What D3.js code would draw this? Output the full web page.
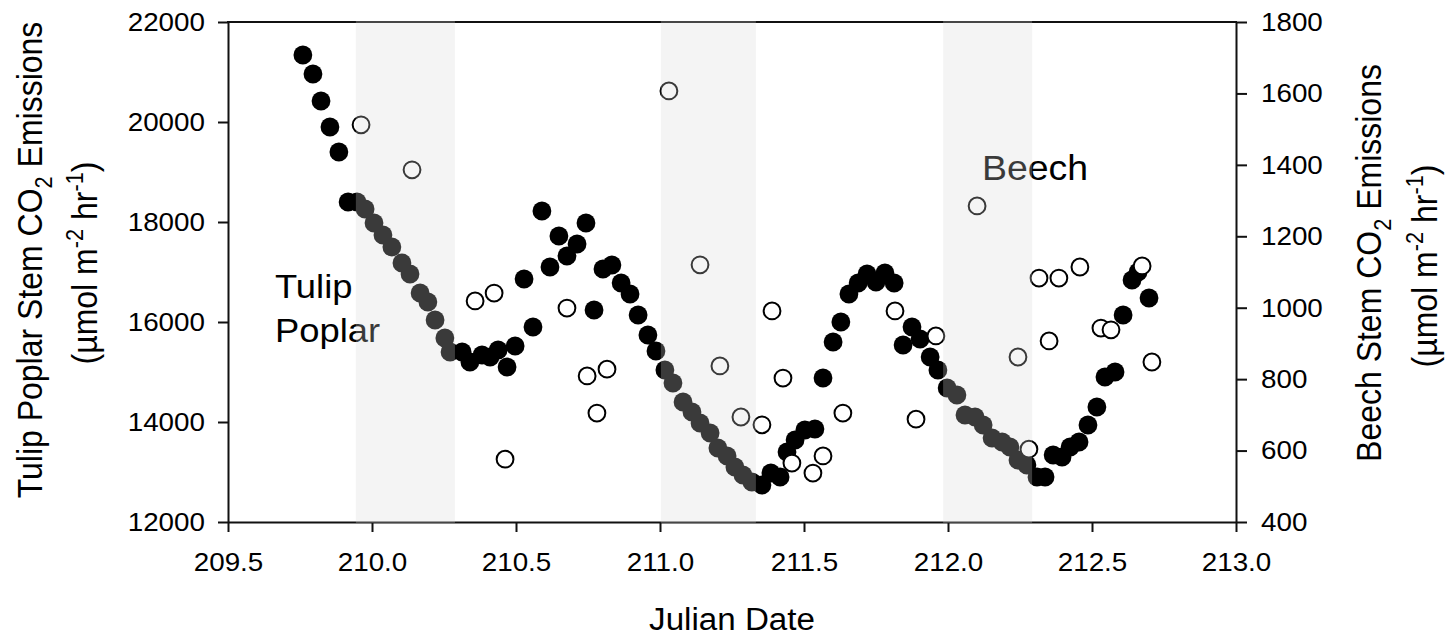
<!DOCTYPE html>
<html><head><meta charset="utf-8">
<script src="https://cdn.jsdelivr.net/npm/d3@7"></script>
<style>
body{margin:0;background:#fff}
svg{display:block}
text{font-family:"Liberation Sans",Arial,sans-serif;fill:#000}
</style>
</head><body>
<svg id="c" width="1445" height="639"></svg>
<script>
// ---------- data ----------
const poplarDate = [209.760,209.795,209.823,209.854,209.885,209.917,209.948,209.976,210.007,210.038,210.069,210.104,210.132,210.167,210.194,210.219,210.253,210.271,210.313,210.340,210.382,210.410,210.438,210.469,210.497,210.528,210.559,210.590,210.618,210.649,210.677,210.712,210.743,210.771,210.802,210.833,210.865,210.896,210.924,210.958,210.986,211.017,211.045,211.080,211.111,211.139,211.174,211.201,211.233,211.260,211.288,211.319,211.354,211.385,211.417,211.441,211.469,211.503,211.538,211.566,211.601,211.628,211.656,211.688,211.719,211.750,211.781,211.813,211.844,211.875,211.903,211.938,211.965,211.997,212.031,212.059,212.094,212.122,212.153,212.188,212.215,212.243,212.274,212.309,212.337,212.365,212.396,212.424,212.455,212.486,212.517,212.545,212.580,212.608,212.639,212.660,212.698];
const poplarFlux = [21340,20960,20420,19900,19400,18400,18400,18260,17980,17740,17500,17180,16960,16580,16400,16040,15680,15400,15400,15200,15340,15300,15440,15100,15520,16860,15900,18220,17100,17720,17320,17560,17980,16240,17060,17140,16780,16560,16140,15740,15420,15040,14780,14400,14200,13980,13780,13480,13320,13100,12940,12800,12740,12980,12900,13400,13640,13840,13860,14880,15600,16000,16560,16780,16960,16800,16980,16780,15540,15900,15660,15300,15040,14680,14540,14140,14100,13940,13680,13600,13500,13240,13140,12900,12900,13340,13300,13500,13600,13940,14300,14900,15000,16140,16840,17000,16480];
const beechDate = [209.962,210.139,210.358,210.424,210.462,210.677,210.747,210.781,210.816,211.031,211.139,211.208,211.281,211.354,211.389,211.427,211.458,211.531,211.566,211.635,211.816,211.889,211.958,212.101,212.243,212.281,212.316,212.351,212.385,212.458,212.531,212.566,212.674,212.708];
const beechFlux = [1512,1386,1019,1041,576,999,809,705,828,1607,1120,837,694,672,991,803,565,537,585,705,991,688,921,1285,862,604,1083,907,1083,1114,943,938,1117,848];
const nightStart = [209.944, 211.003, 211.983];
const nightEnd   = [210.288, 211.333, 212.292];
const xTicks = [209.5,210.0,210.5,211.0,211.5,212.0,212.5,213.0];
const leftTicks = [12000,14000,16000,18000,20000,22000];
const rightTicks = [400,600,800,1000,1200,1400,1600,1800];

// ---------- layout ----------
const SX = 1.07; // horizontal glyph stretch seen in the reference
const m = {left:228, right:1236, top:22, bottom:522};
const svg = d3.select('#c');
const x = d3.scaleLinear().domain([209.5,213.0]).range([m.left, m.right]);
const yL = d3.scaleLinear().domain([12000,22000]).range([m.bottom, m.top]);
const yR = d3.scaleLinear().domain([400,1800]).range([m.bottom, m.top]);

function styleAxis(g, fs){
  g.select('.domain').attr('stroke','#111').attr('stroke-width',2);
  g.selectAll('.tick line').attr('stroke','#111').attr('stroke-width',2);
  g.selectAll('.tick text').attr('font-size',fs).attr('fill','#000')
    .attr('font-family','"Liberation Sans",Arial,sans-serif');
}

// bottom axis
const gx = svg.append('g').attr('transform',`translate(0,${m.bottom})`)
  .call(d3.axisBottom(x).tickValues(xTicks).tickFormat(d3.format('.1f'))
    .tickSize(10).tickSizeOuter(0).tickPadding(21));
styleAxis(gx, 26);
gx.selectAll('.tick text').attr('transform',`scale(${SX},1)`);

// left axis
const gl = svg.append('g').attr('transform',`translate(${m.left},0)`)
  .call(d3.axisLeft(yL).tickValues(leftTicks).tickFormat(d3.format('d'))
    .tickSize(10).tickSizeOuter(0).tickPadding(13));
styleAxis(gl, 26);
gl.selectAll('.tick text').attr('x', -23/SX).attr('transform',`scale(${SX},1)`);

// right axis
const gr = svg.append('g').attr('transform',`translate(${m.right},0)`)
  .call(d3.axisRight(yR).tickValues(rightTicks).tickFormat(d3.format('d'))
    .tickSize(11).tickSizeOuter(0).tickPadding(14));
styleAxis(gr, 26);
gr.selectAll('.tick text').attr('x', 25/SX).attr('transform',`scale(${SX},1)`);

// top frame line
svg.append('line').attr('x1',x(209.5)-1).attr('x2',x(213.0)+1)
  .attr('y1',yL(22000)).attr('y2',yL(22000))
  .attr('stroke','#111').attr('stroke-width',2);

// ---------- points ----------
const poplar = d3.zip(poplarDate, poplarFlux);
const beech = d3.zip(beechDate, beechFlux);

svg.append('g').selectAll('circle').data(poplar).join('circle')
  .attr('cx',d=>x(d[0])).attr('cy',d=>yL(d[1])).attr('r',9.4)
  .attr('fill','#000');

svg.append('g').selectAll('circle').data(beech).join('circle')
  .attr('cx',d=>x(d[0])).attr('cy',d=>yR(d[1])).attr('r',8.4)
  .attr('fill','#fff').attr('stroke','#000').attr('stroke-width',2);

// ---------- text ----------
function htext(px, py, fs, str, anchor){
  return svg.append('text').attr('transform',`translate(${px},${py}) scale(${SX},1)`)
    .attr('font-size',fs).attr('text-anchor',anchor||'start').text(str);
}
htext(275, 298, 34, 'Tulip');
htext(275, 342, 34, 'Poplar');
htext(982, 180, 35, 'Beech');
htext((m.left+m.right)/2, 630, 31, 'Julian Date', 'middle');

function vtitle(px, py, fs, parts){
  const t = svg.append('text')
    .attr('transform',`translate(${px},${py}) rotate(-90) scale(1,${SX})`)
    .attr('font-size',fs).attr('text-anchor','middle');
  parts.forEach(p=>{
    const s = t.append('tspan').text(p.t);
    if(p.sub){ s.attr('font-size',fs*0.68).attr('dy',fs*0.28); }
    else if(p.sup){ s.attr('font-size',fs*0.68).attr('dy',-fs*0.42); }
    if(p.reset) s.attr('dy',p.reset);
  });
  return t;
}
const fsT = 32;
vtitle(42, 260, fsT, [{t:'Tulip Poplar Stem CO'},{t:'2',sub:true},{t:' Emissions',reset:-fsT*0.28}]);
vtitle(97, 263, fsT, [{t:'(µmol m'},{t:'-2',sup:true},{t:' hr',reset:fsT*0.42},{t:'-1',sup:true},{t:')',reset:fsT*0.42}]);
vtitle(1381, 263, fsT, [{t:'Beech Stem CO'},{t:'2',sub:true},{t:' Emissions',reset:-fsT*0.28}]);
vtitle(1437, 266, fsT, [{t:'(µmol m'},{t:'-2',sup:true},{t:' hr',reset:fsT*0.42},{t:'-1',sup:true},{t:')',reset:fsT*0.42}]);

// ---------- night shading (drawn over everything, translucent) ----------
svg.append('g').selectAll('rect').data(d3.zip(nightStart, nightEnd)).join('rect')
  .attr('x',d=>x(d[0])).attr('width',d=>x(d[1])-x(d[0]))
  .attr('y',m.top-1).attr('height',m.bottom-m.top+2)
  .attr('fill','#d8d8d8').attr('opacity',0.27);
</script>
</body></html>
